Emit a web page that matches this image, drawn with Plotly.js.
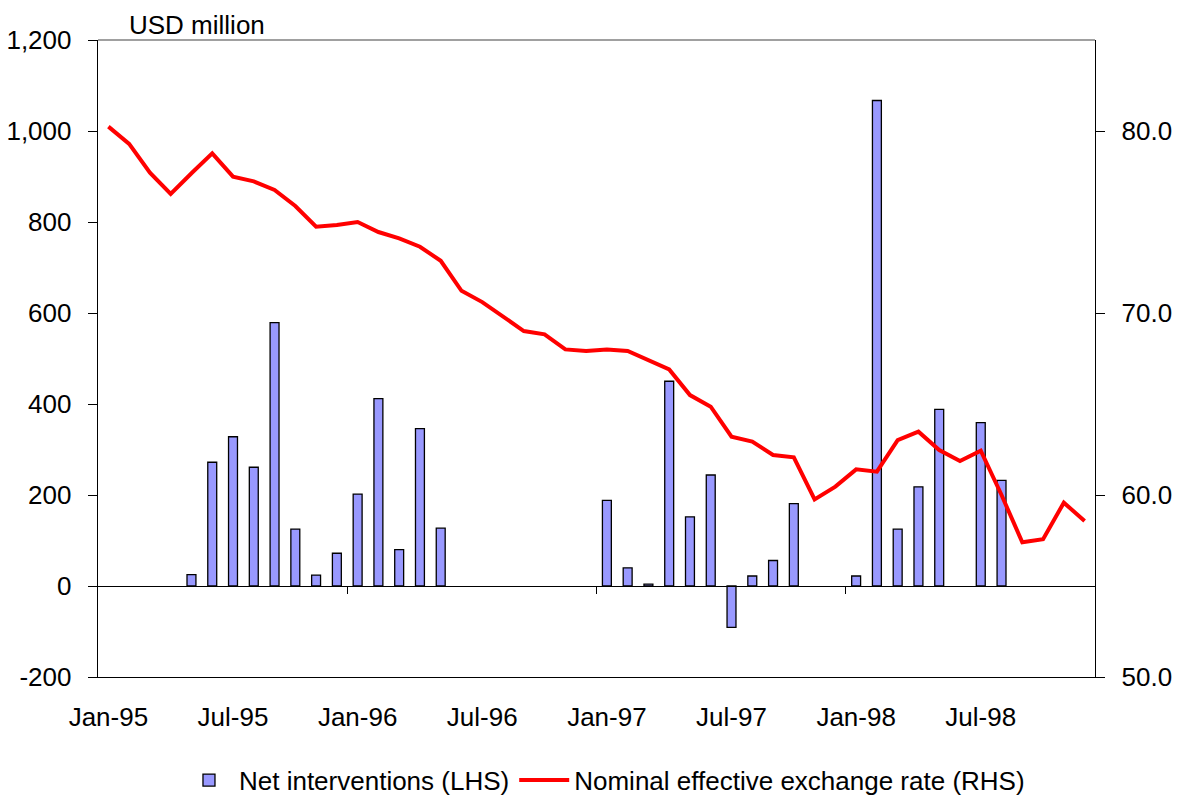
<!DOCTYPE html>
<html>
<head>
<meta charset="utf-8">
<script src="https://cdn.plot.ly/plotly-3.0.1.min.js"></script>
<style>html,body{margin:0;padding:0;background:#fff;}#chart{width:1179px;height:798px;}</style>
</head>
<body>
<div id="chart"></div>
<script>
const months = [
  "Jan-95","Feb-95","Mar-95","Apr-95","May-95","Jun-95","Jul-95","Aug-95","Sep-95","Oct-95","Nov-95","Dec-95",
  "Jan-96","Feb-96","Mar-96","Apr-96","May-96","Jun-96","Jul-96","Aug-96","Sep-96","Oct-96","Nov-96","Dec-96",
  "Jan-97","Feb-97","Mar-97","Apr-97","May-97","Jun-97","Jul-97","Aug-97","Sep-97","Oct-97","Nov-97","Dec-97",
  "Jan-98","Feb-98","Mar-98","Apr-98","May-98","Jun-98","Jul-98","Aug-98","Sep-98","Oct-98","Nov-98","Dec-98"
];
const netInterventions = [
  null, null, null, null, 25, 272, 328, 261, 579, 125, 24, 72,
  202, 412, 80, 346, 127, null, null, null, null, null, null, null,
  188, 40, 4, 450, 152, 244, -91, 22, 56, 181, null, null,
  22, 1067, 125, 218, 388, null, 359, 232, null, null, null, null
];
const neer = [
  80.24, 79.29, 77.71, 76.54, 77.68, 78.77, 77.49, 77.23, 76.76, 75.88, 74.74, 74.84,
  75.00, 74.45, 74.10, 73.64, 72.87, 71.22, 70.60, 69.80, 69.01, 68.83, 68.00, 67.91,
  68.00, 67.91, 67.42, 66.90, 65.49, 64.85, 63.20, 62.93, 62.20, 62.07, 59.76, 60.46,
  61.41, 61.28, 63.02, 63.48, 62.47, 61.87, 62.43, 60.00, 57.40, 57.57, 59.58, 58.57
];
const xTickLabels = ["Jan-95","Jul-95","Jan-96","Jul-96","Jan-97","Jul-97","Jan-98","Jul-98"];
const leftTickVals = [-200, 0, 200, 400, 600, 800, 1000, 1200];
const leftTickText = ["-200", "0", "200", "400", "600", "800", "1,000", "1,200"];
const rightTickVals = [50, 60, 70, 80];
const yearBoundaries = [11.5, 23.5, 35.5];

const FONT = "Liberation Sans, Arial, sans-serif";
const monthIndex = months.map((m, i) => i);

const traces = [
  {
    type: "bar", x: monthIndex, y: netInterventions, name: "Net interventions (LHS)",
    marker: {color: "#9999FF", line: {color: "#000000", width: 1.3}},
    xaxis: "x", yaxis: "y", hovertext: months, hoverinfo: "text+y",
    textposition: "none"
  },
  {
    type: "scatter", mode: "lines", x: monthIndex, y: neer,
    name: "Nominal effective exchange rate (RHS)",
    line: {color: "#FF0000", width: 4}, xaxis: "x2", yaxis: "y2",
    hovertext: months, hoverinfo: "text+y"
  }
];

const layout = {
  width: 1179, height: 798,
  margin: {l: 98, r: 84, t: 40, b: 121, autoexpand: false},
  paper_bgcolor: "#ffffff", plot_bgcolor: "#ffffff",
  font: {family: FONT, size: 26, color: "#000"},
  bargap: 0.57,
  showlegend: true,
  legend: {
    orientation: "h", x: 0.508, xanchor: "center", y: -0.162, yanchor: "middle",
    font: {family: FONT, size: 26, color: "#000"}, traceorder: "normal",
    itemwidth: 50, bgcolor: "rgba(0,0,0,0)"
  },
  xaxis: {
    range: [-0.5, 47.5],
    tickvals: xTickLabels.map(l => months.indexOf(l)), ticktext: xTickLabels,
    ticks: "", showgrid: false, zeroline: false,
    showline: true, linecolor: "#000", linewidth: 1.3,
    ticklabelstandoff: 16,
    tickfont: {family: FONT, size: 26}
  },
  xaxis2: {
    overlaying: "x", anchor: "free", position: 200 / 1400,
    range: [-0.5, 47.5], tickvals: yearBoundaries,
    ticks: "outside", ticklen: 7, tickcolor: "#000", tickwidth: 1,
    showticklabels: false, showgrid: false, zeroline: false,
    showline: true, linecolor: "#000", linewidth: 1.2
  },
  yaxis: {
    range: [-200, 1200], tickvals: leftTickVals, ticktext: leftTickText,
    ticks: "outside", ticklen: 9, tickcolor: "#000", tickwidth: 1,
    showline: true, linecolor: "#000", linewidth: 1.3,
    showgrid: false, zeroline: false,
    ticklabelstandoff: 11,
    tickfont: {family: FONT, size: 26}
  },
  yaxis2: {
    overlaying: "y", side: "right", range: [50, 85],
    tickvals: rightTickVals, tickformat: ".1f",
    ticks: "outside", ticklen: 9, tickcolor: "#000", tickwidth: 1,
    showline: true, linecolor: "#000", linewidth: 1.3,
    showgrid: false, zeroline: false,
    ticklabelstandoff: 11,
    tickfont: {family: FONT, size: 26}
  },
  shapes: [
    {type: "line", xref: "paper", yref: "paper", x0: 0, x1: 1, y0: 1, y1: 1,
     line: {color: "#808080", width: 1.3}}
  ],
  annotations: [
    {text: "USD million", xref: "paper", yref: "paper", x: 0.029, y: 1,
     xanchor: "left", yanchor: "bottom", yshift: -2, showarrow: false,
     font: {family: FONT, size: 26, color: "#000"}}
  ]
};

Plotly.newPlot("chart", traces, layout, {displayModeBar: false, staticPlot: true});
</script>
</body>
</html>
